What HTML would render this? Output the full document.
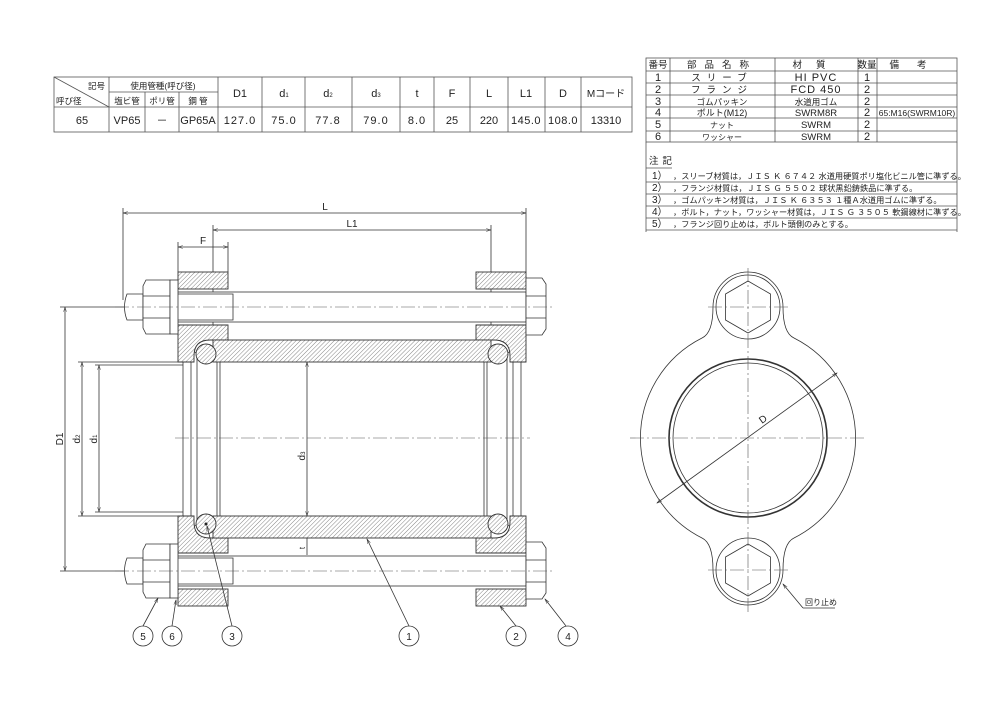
<!DOCTYPE html>
<html><head><meta charset="utf-8"><style>
html,body{margin:0;padding:0;background:#fff;}
svg{display:block;}
text{font-family:"Liberation Sans","Noto Sans CJK JP",sans-serif;fill:#222;}
</style></head><body>
<svg width="1000" height="706" viewBox="0 0 1000 706" xmlns="http://www.w3.org/2000/svg">
<defs>
<pattern id="h" patternUnits="userSpaceOnUse" width="3" height="3" patternTransform="rotate(45)">
<rect width="3" height="3" fill="#fff"/><line x1="0" y1="0" x2="0" y2="3" stroke="#666" stroke-width="0.8"/>
</pattern>
<marker id="a" viewBox="0 0 10 10" refX="10" refY="5" markerWidth="8" markerHeight="6" orient="auto-start-reverse"><path d="M0,2 L10,5 L0,8" fill="none" stroke="#333" stroke-width="1"/></marker>
</defs>
<rect width="1000" height="706" fill="#fff"/>

<!-- top-left table -->
<g stroke="#555" stroke-width="0.8" fill="none">
<rect x="54" y="77" width="578" height="55"/>
<line x1="54" y1="107" x2="632" y2="107"/>
<line x1="109" y1="92" x2="218" y2="92"/>
<line x1="54" y1="77" x2="109" y2="107"/>
<line x1="109" y1="77" x2="109" y2="132"/>
<line x1="145" y1="92" x2="145" y2="132"/>
<line x1="179" y1="92" x2="179" y2="132"/>
<line x1="218" y1="77" x2="218" y2="132"/>
<line x1="262" y1="77" x2="262" y2="132"/>
<line x1="305" y1="77" x2="305" y2="132"/>
<line x1="352" y1="77" x2="352" y2="132"/>
<line x1="400" y1="77" x2="400" y2="132"/>
<line x1="434" y1="77" x2="434" y2="132"/>
<line x1="470" y1="77" x2="470" y2="132"/>
<line x1="508" y1="77" x2="508" y2="132"/>
<line x1="545" y1="77" x2="545" y2="132"/>
<line x1="581" y1="77" x2="581" y2="132"/>
</g>
<g font-size="8.5">
<text x="88" y="89">記号</text>
<text x="56" y="104">呼び径</text>
<text x="163" y="89" text-anchor="middle">使用管種(呼び径)</text>
<text x="127" y="104" text-anchor="middle">塩ビ管</text>
<text x="162" y="104" text-anchor="middle">ポリ管</text>
<text x="198" y="104" text-anchor="middle">鋼 管</text>
</g>
<g font-size="11" text-anchor="middle">
<text x="240" y="97">D1</text><text x="284" y="97">d<tspan font-size="6">1</tspan></text>
<text x="328" y="97">d<tspan font-size="6">2</tspan></text><text x="376" y="97">d<tspan font-size="6">3</tspan></text>
<text x="417" y="97">t</text><text x="452" y="97">F</text><text x="489" y="97">L</text>
<text x="526" y="97">L1</text><text x="563" y="97">D</text><text x="606" y="97" font-size="10">Mコード</text>
<text x="82" y="124">65</text><text x="127" y="124">VP65</text><text x="162" y="124">－</text>
<text x="198" y="124">GP65A</text><text x="240" y="124" letter-spacing="1">127.0</text>
<text x="284" y="124" letter-spacing="1">75.0</text><text x="328" y="124" letter-spacing="1">77.8</text>
<text x="376" y="124" letter-spacing="1">79.0</text><text x="417" y="124" letter-spacing="1">8.0</text>
<text x="452" y="124">25</text><text x="489" y="124">220</text>
<text x="526" y="124" letter-spacing="0.5">145.0</text><text x="563" y="124" letter-spacing="0.5">108.0</text>
<text x="606" y="124">13310</text>
</g>

<!-- parts table -->
<g stroke="#555" stroke-width="0.8" fill="none">
<rect x="646" y="58" width="311" height="84"/>
<line x1="646" y1="71" x2="957" y2="71"/><line x1="646" y1="83" x2="957" y2="83"/>
<line x1="646" y1="95" x2="957" y2="95"/><line x1="646" y1="107" x2="957" y2="107"/>
<line x1="646" y1="118" x2="957" y2="118"/><line x1="646" y1="131" x2="957" y2="131"/>
<line x1="670" y1="58" x2="670" y2="142"/><line x1="775" y1="58" x2="775" y2="142"/>
<line x1="858" y1="58" x2="858" y2="142"/><line x1="877" y1="58" x2="877" y2="142"/>
<line x1="646" y1="142" x2="646" y2="232"/><line x1="957" y1="142" x2="957" y2="232"/>
<line x1="646" y1="168" x2="672" y2="168"/>
<line x1="646" y1="182" x2="957" y2="182"/><line x1="646" y1="194" x2="957" y2="194"/>
<line x1="646" y1="206" x2="957" y2="206"/><line x1="646" y1="218" x2="957" y2="218"/>
<line x1="646" y1="230" x2="957" y2="230"/>
</g>
<g font-size="9.5" text-anchor="middle">
<text x="658" y="68">番号</text><text x="722" y="68" letter-spacing="8">部品名称</text>
<text x="816" y="68" letter-spacing="14">材質</text><text x="867" y="68">数量</text><text x="917" y="68" letter-spacing="18">備考</text>
<text x="658" y="81" font-size="11">1</text><text x="722" y="81" letter-spacing="6">スリーブ</text><text x="816" y="81" font-size="11" letter-spacing="1">HI PVC</text><text x="867" y="81" font-size="11">1</text>
<text x="658" y="93" font-size="11">2</text><text x="722" y="93" letter-spacing="6">フランジ</text><text x="816" y="93" font-size="11" letter-spacing="1">FCD 450</text><text x="867" y="93" font-size="11">2</text>
<text x="658" y="105" font-size="11">3</text><text x="722" y="105" font-size="8.5">ゴムパッキン</text><text x="816" y="105" font-size="8.5">水道用ゴム</text><text x="867" y="105" font-size="11">2</text>
<text x="658" y="116" font-size="11">4</text><text x="722" y="116" font-size="9">ボルト(M12)</text><text x="816" y="116" font-size="9.5">SWRM8R</text><text x="867" y="116" font-size="11">2</text><text x="917" y="116" font-size="8.5">65:M16(SWRM10R)</text>
<text x="658" y="128" font-size="11">5</text><text x="722" y="128" font-size="8">ナット</text><text x="816" y="128" font-size="9.5">SWRM</text><text x="867" y="128" font-size="11">2</text>
<text x="658" y="140" font-size="11">6</text><text x="722" y="140" font-size="8">ワッシャー</text><text x="816" y="140" font-size="9.5">SWRM</text><text x="867" y="140" font-size="11">2</text>
</g>
<g font-size="8.2">
<text x="649" y="164" font-size="9.5" letter-spacing="4">注記</text>
<text x="652" y="179" font-size="10">1）</text><text x="673" y="179">，スリーブ材質は，ＪＩＳ Ｋ ６７４２ 水道用硬質ポリ塩化ビニル管に準ずる。</text>
<text x="652" y="191" font-size="10">2）</text><text x="673" y="191">，フランジ材質は，ＪＩＳ Ｇ ５５０２ 球状黒鉛鋳鉄品に準ずる。</text>
<text x="652" y="203" font-size="10">3）</text><text x="673" y="203">，ゴムパッキン材質は，ＪＩＳ Ｋ ６３５３ １種Ａ水道用ゴムに準ずる。</text>
<text x="652" y="215" font-size="10">4）</text><text x="673" y="215">，ボルト，ナット，ワッシャー材質は，ＪＩＳ Ｇ ３５０５ 軟鋼線材に準ずる。</text>
<text x="652" y="227" font-size="10">5）</text><text x="673" y="227">，フランジ回り止めは，ボルト頭側のみとする。</text>
</g>

<!-- LEFT VIEW -->
<g stroke="#333" stroke-width="0.8" fill="none">
<line x1="123" y1="208" x2="123" y2="300"/><line x1="526" y1="208" x2="526" y2="272"/>
<line x1="213" y1="225" x2="213" y2="340"/><line x1="491" y1="225" x2="491" y2="340"/>
<line x1="178" y1="242" x2="178" y2="272"/><line x1="228" y1="242" x2="228" y2="272"/>
<line x1="60" y1="307" x2="125" y2="307"/><line x1="60" y1="571" x2="125" y2="571"/>
<line x1="78" y1="362" x2="194" y2="362"/><line x1="78" y1="516" x2="194" y2="516"/>
<line x1="95" y1="365" x2="183" y2="365"/><line x1="95" y1="512" x2="183" y2="512"/>
<line x1="123" y1="213" x2="526" y2="213" marker-start="url(#a)" marker-end="url(#a)"/>
<line x1="213" y1="230" x2="491" y2="230" marker-start="url(#a)" marker-end="url(#a)"/>
<line x1="178" y1="247" x2="228" y2="247" marker-start="url(#a)" marker-end="url(#a)"/>
<line x1="65" y1="307" x2="65" y2="571" marker-start="url(#a)" marker-end="url(#a)"/>
<line x1="82" y1="362" x2="82" y2="516" marker-start="url(#a)" marker-end="url(#a)"/>
<line x1="99" y1="365" x2="99" y2="512" marker-start="url(#a)" marker-end="url(#a)"/>
<line x1="307" y1="362" x2="307" y2="516" marker-start="url(#a)" marker-end="url(#a)"/>
<line x1="307" y1="516" x2="307" y2="538" marker-start="url(#a)" marker-end="url(#a)"/>
<line x1="307" y1="538" x2="307" y2="555"/>
</g>
<g font-size="10" text-anchor="middle">
<text x="325" y="210">L</text><text x="352" y="227">L1</text><text x="203" y="244">F</text>
<text transform="translate(63,439) rotate(-90)">D1</text>
<text transform="translate(80,439) rotate(-90)">d<tspan font-size="6">2</tspan></text>
<text transform="translate(97,439) rotate(-90)">d<tspan font-size="6">1</tspan></text>
<text transform="translate(305,456) rotate(-90)">d<tspan font-size="6">3</tspan></text>
<text transform="translate(305,548) rotate(-90)" font-size="8">t</text>
</g>

<g stroke="#333" stroke-width="0.8" fill="none">
<line x1="183" y1="362" x2="183" y2="516"/>
<rect x="191" y="352" width="6" height="174" rx="3"/>
<line x1="217" y1="362" x2="217" y2="516"/><line x1="220" y1="362" x2="220" y2="516"/>
<line x1="521" y1="362" x2="521" y2="516"/>
<rect x="507" y="352" width="6" height="174" rx="3"/>
<line x1="487" y1="362" x2="487" y2="516"/><line x1="484" y1="362" x2="484" y2="516"/>
</g>

<g stroke="#333" stroke-width="0.9" fill="url(#h)">
<rect x="178" y="272" width="50" height="17"/>
<path d="M178,325 H228 V340 H210 Q194,340 194,356 V362 H178 Z"/>
<rect x="178" y="589" width="50" height="17"/>
<path d="M178,553 H228 V538 H210 Q194,538 194,522 V516 H178 Z"/>
<rect x="476" y="272" width="50" height="17"/>
<path d="M526,325 H476 V340 H494 Q510,340 510,356 V362 H526 Z"/>
<rect x="476" y="589" width="50" height="17"/>
<path d="M526,553 H476 V538 H494 Q510,538 510,522 V516 H526 Z"/>
<rect x="213" y="340" width="278" height="22"/>
<rect x="213" y="516" width="278" height="22"/>
<circle cx="206" cy="354" r="10"/><circle cx="206" cy="524" r="10"/>
<circle cx="498" cy="354" r="10"/><circle cx="498" cy="524" r="10"/>
</g>
<circle cx="206" cy="524" r="1.5" fill="#222"/>

<g stroke="#333" stroke-width="0.8" fill="#fff">
<rect x="172" y="292" width="354" height="30"/>
<rect x="172" y="556" width="354" height="30"/>
<path d="M143,294 H233 V320 H143 Z M127,294 H143 V320 H127 Q122,307 127,294 Z"/>
<path d="M143,558 H233 V584 H143 Z M127,558 H143 V584 H127 Q122,571 127,558 Z"/>
<path d="M146,280 H170 V334 H146 L143,328 V286 Z"/>
<path d="M146,544 H170 V598 H146 L143,592 V550 Z"/>
<line x1="143" y1="296" x2="170" y2="296"/><line x1="143" y1="318" x2="170" y2="318"/>
<line x1="143" y1="560" x2="170" y2="560"/><line x1="143" y1="582" x2="170" y2="582"/>
<rect x="170" y="280" width="8" height="54"/>
<rect x="170" y="544" width="8" height="54"/>
<path d="M526,278 H542 L546,284 V329 L542,335 H526 Z"/>
<path d="M526,542 H542 L546,548 V593 L542,599 H526 Z"/>
<line x1="526" y1="296" x2="546" y2="296"/><line x1="526" y1="318" x2="546" y2="318"/>
<line x1="526" y1="560" x2="546" y2="560"/><line x1="526" y1="582" x2="546" y2="582"/>
</g>
<g stroke="#555" stroke-width="0.6" stroke-dasharray="14,3,2,3" fill="none">
<line x1="115" y1="307" x2="552" y2="307"/><line x1="115" y1="571" x2="552" y2="571"/>
<line x1="175" y1="438" x2="530" y2="438"/>
</g>

<g stroke="#333" stroke-width="0.8" fill="none">
<line x1="143" y1="626" x2="158" y2="598" marker-end="url(#a)"/>
<line x1="172" y1="626" x2="176" y2="600" marker-end="url(#a)"/>
<line x1="232" y1="626" x2="207" y2="526" marker-end="url(#a)"/>
<line x1="409" y1="626" x2="367" y2="539" marker-end="url(#a)"/>
<line x1="516" y1="626" x2="500" y2="606" marker-end="url(#a)"/>
<line x1="566" y1="626" x2="545" y2="599" marker-end="url(#a)"/>
<circle cx="143" cy="636" r="10"/><circle cx="172" cy="636" r="10"/>
<circle cx="232" cy="636" r="10"/><circle cx="409" cy="636" r="10"/>
<circle cx="516" cy="636" r="10"/><circle cx="568" cy="636" r="10"/>
</g>
<g font-size="10" text-anchor="middle">
<text x="143" y="640">5</text><text x="172" y="640">6</text><text x="232" y="640">3</text>
<text x="409" y="640">1</text><text x="516" y="640">2</text><text x="568" y="640">4</text>
</g>

<!-- RIGHT VIEW -->
<g stroke="#333" stroke-width="0.8" fill="#fff">
<path d="M702,338 Q713,333 713,307 A35,35 0 0 1 783,307 Q783,333 794,338 A112,112 0 0 1 794,538 Q783,543 783,570 A35,35 0 0 1 713,570 Q713,543 702,538 A112,112 0 0 1 702,338 Z"/>
<circle cx="748" cy="307" r="32"/><circle cx="748" cy="570" r="32"/>
<polygon points="748,281 770.5,294 770.5,320 748,333 725.5,320 725.5,294"/>
<polygon points="748,544 770.5,557 770.5,583 748,596 725.5,583 725.5,557"/>
<circle cx="748" cy="438" r="79" stroke-width="1.6"/>
<circle cx="748" cy="438" r="75"/>
</g>
<g stroke="#555" stroke-width="0.6" stroke-dasharray="14,3,2,3" fill="none">
<line x1="748" y1="268" x2="748" y2="612"/>
<line x1="630" y1="438" x2="866" y2="438"/>
<line x1="708" y1="307" x2="788" y2="307"/><line x1="708" y1="570" x2="788" y2="570"/>
</g>
<g stroke="#333" stroke-width="0.8" fill="none">
<line x1="657" y1="503" x2="837" y2="373" marker-start="url(#a)" marker-end="url(#a)"/>
<line x1="803" y1="608" x2="783" y2="584" marker-end="url(#a)"/>
<line x1="803" y1="608" x2="835" y2="608"/>
</g>
<text x="0" y="0" font-size="10" transform="translate(762,424) rotate(-36)">D</text>
<text x="805" y="605" font-size="8">回り止め</text>
</svg>
</body></html>
